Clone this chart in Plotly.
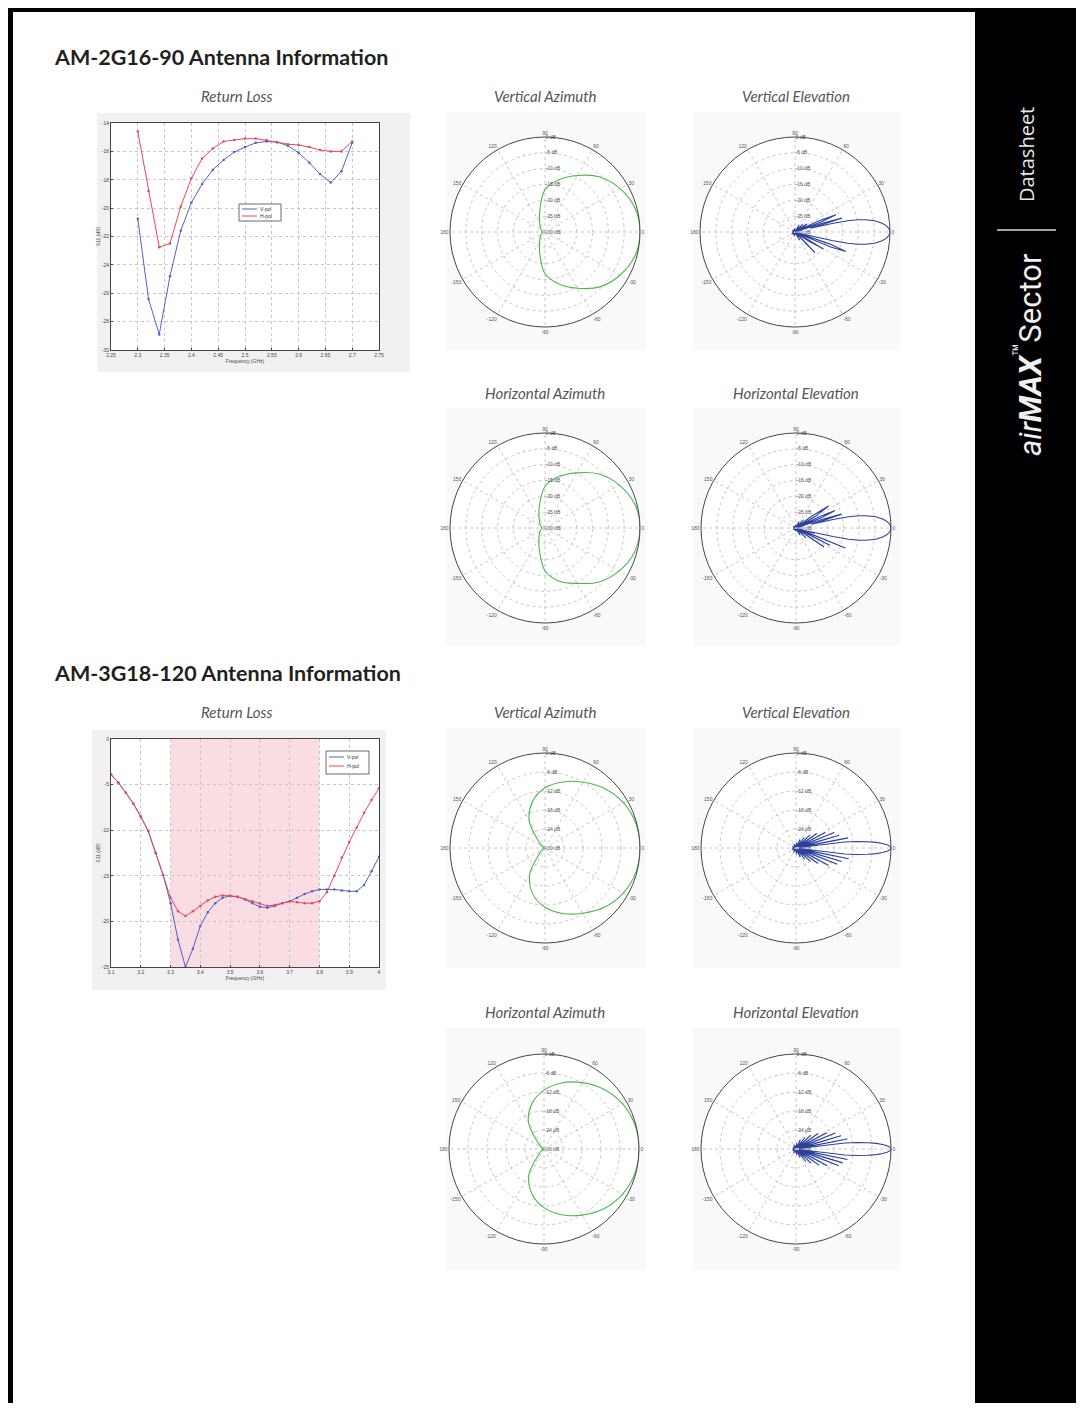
import plotly.graph_objects as go

# page geometry (browser body keeps an 8px margin)
OFF = 8
W, H = 1084 - 2 * OFF, 1411 - 2 * OFF

# ---------------- data ----------------
# AM-2G16-90 return loss
rl2_freq = [2.30, 2.32, 2.34, 2.36, 2.38, 2.40, 2.42, 2.44, 2.46, 2.48, 2.50,
            2.52, 2.54, 2.56, 2.58, 2.60, 2.62, 2.64, 2.66, 2.68, 2.70]
rl2_vpol = [-20.75, -26.4, -28.9, -24.8, -21.6, -19.6, -18.3, -17.3, -16.6, -16.05, -15.7,
            -15.4, -15.3, -15.35, -15.6, -16.1, -16.8, -17.6, -18.2, -17.4, -15.4]
rl2_hpol = [-14.6, -18.8, -22.75, -22.5, -19.9, -17.9, -16.5, -15.8, -15.3, -15.2, -15.1,
            -15.1, -15.2, -15.35, -15.5, -15.55, -15.7, -15.9, -16.0, -16.0, -15.3]
rl2_xticks = [2.25, 2.3, 2.35, 2.4, 2.45, 2.5, 2.55, 2.6, 2.65, 2.7, 2.75]
rl2_xticktext = ["2.25", "2.3", "2.35", "2.4", "2.45", "2.5", "2.55", "2.6", "2.65", "2.7", "2.75"]
rl2_yticks = [-30, -28, -26, -24, -22, -20, -18, -16, -14]

# AM-3G18-120 return loss
rl3_freq = [3.100, 3.125, 3.150, 3.175, 3.200, 3.225, 3.250, 3.275, 3.300, 3.325,
            3.350, 3.375, 3.400, 3.425, 3.450, 3.475, 3.500, 3.525, 3.550, 3.575,
            3.600, 3.625, 3.650, 3.675, 3.700, 3.725, 3.750, 3.775, 3.800, 3.825,
            3.850, 3.875, 3.900, 3.925, 3.950, 3.975, 4.000]
rl3_vpol = [-3.9, -4.8, -5.9, -7.1, -8.5, -10.1, -12.5, -14.9, -18.0, -22.0,
            -25.0, -23.0, -20.5, -19.0, -18.0, -17.4, -17.2, -17.3, -17.6, -18.0,
            -18.4, -18.5, -18.3, -18.0, -17.8, -17.4, -17.0, -16.7, -16.5, -16.5,
            -16.5, -16.6, -16.7, -16.7, -16.0, -14.5, -12.9]
rl3_hpol = [-3.9, -4.8, -5.9, -7.1, -8.5, -10.1, -12.5, -14.9, -17.4, -18.9,
            -19.4, -18.9, -18.3, -17.7, -17.3, -17.15, -17.2, -17.3, -17.55, -17.8,
            -18.05, -18.3, -18.2, -18.0, -17.8, -17.9, -18.0, -18.0, -17.8, -16.8,
            -15.0, -13.0, -11.3, -9.7, -8.1, -6.7, -5.4]
rl3_band = [3.3, 3.8]
rl3_xticks = [3.1, 3.2, 3.3, 3.4, 3.5, 3.6, 3.7, 3.8, 3.9, 4.0]
rl3_xticktext = ["3.1", "3.2", "3.3", "3.4", "3.5", "3.6", "3.7", "3.8", "3.9", "4"]
rl3_yticks = [-25, -20, -15, -10, -5, 0]

legend_names = ["V-pol", "H-pol"]

# polar tick labels
ang_tickvals = [0, 30, 60, 90, 120, 150, 180, 210, 240, 270, 300, 330]
ang_ticktext = ["0", "30", "60", "90", "120", "150", "180", "-150", "-120", "-90", "-60", "-30"]
r2_tickvals = [-30, -25, -20, -15, -10, -5, 0]
r2_ticktext = ["-30 dB", "-25 dB", "-20 dB", "-15 dB", "-10 dB", "-5 dB", "0 dB"]
r3_tickvals = [-30, -24, -18, -12, -6, 0]
r3_ticktext = ["-30 dB", "-24 dB", "-18 dB", "-12 dB", "-6 dB", "0 dB"]

# azimuth patterns (deg, dB)
az_theta = [-180, -165, -150, -135, -120, -105, -90, -75, -60, -45, -30, -15, 0,
            15, 30, 45, 60, 75, 90, 105, 120, 135, 150, 165, 180]
az2_v_db = [-29.2, -29.0, -28.6, -27.9, -26.7, -23.4, -16.8, -13.0, -9.5, -5.5, -2.7, -0.6, 0,
            -0.6, -2.6, -5.4, -9.4, -12.9, -16.6, -23.5, -26.7, -27.9, -28.6, -29.0, -29.2]
az2_h_db = [-29.0, -28.8, -28.3, -27.5, -26.2, -23.0, -16.5, -12.6, -9.8, -5.9, -2.9, -0.7, 0,
            -0.7, -2.9, -5.9, -9.9, -13.2, -16.9, -23.0, -26.3, -27.6, -28.4, -28.8, -29.0]
az3_v_db = [-29.9, -29.7, -29.0, -27.5, -20.3, -15.0, -11.3, -8.6, -6.2, -3.5, -1.5, -0.3, 0,
            -0.3, -1.4, -3.4, -6.0, -8.4, -11.0, -14.8, -20.0, -27.3, -28.9, -29.7, -29.9]
az3_h_db = [-29.9, -29.7, -29.2, -27.8, -20.4, -15.3, -11.5, -8.5, -5.9, -3.3, -1.4, -0.3, 0,
            -0.3, -1.4, -3.3, -5.8, -8.4, -11.4, -15.2, -20.2, -27.6, -29.2, -29.7, -29.9]

# elevation patterns (deg, dB)
el2_v_theta = [-180, -150, -120, -100, -80, -70, -60, -55, -50, -46, -42, -37, -34, -31, -28,
               -25, -23, -21, -19, -17, -14, -13, -12, -11, -10, -8, -6, -4, -2, 0,
               2, 4, 6, 8, 10, 11, 12, 13, 14, 15.5, 16.5, 18, 19, 21, 23, 25, 26.5,
               30, 34, 38, 45, 52, 60, 68, 80, 100, 120, 150, 180]
el2_v_db = [-29.6, -28.8, -29.5, -28.6, -29.7, -29.5, -27.0, -29.6, -29.5, -21.0, -29.3, -29.5, -25.0, -19.5, -28.5,
            -29.5, -18.0, -12.8, -18.5, -29.0, -25.0, -18.0, -13.0, -9.8, -7.6, -4.6, -2.5, -1.1, -0.3, 0,
            -0.3, -1.1, -2.5, -4.6, -7.6, -9.8, -13.0, -18.0, -25.0, -20.0, -14.5, -21.0, -29.5, -21.0, -16.0, -22.0, -29.5,
            -27.0, -25.5, -29.5, -26.5, -29.5, -27.5, -29.8, -29.5, -28.8, -29.6, -29.0, -29.6]
el2_h_theta = [-180, -150, -120, -90, -70, -60, -52, -45, -40, -34, -30, -27, -24.5, -22, -19,
               -16, -14.5, -13, -12, -11, -10, -8, -6, -4, -2, 0,
               2, 4, 6, 8, 10, 11, 12, 13, 14, 15.5, 17, 18.5, 20, 22, 24, 26, 28,
               31, 34, 37, 40, 48, 55, 65, 75, 90, 120, 150, 180]
el2_h_db = [-29.5, -29.0, -29.6, -28.9, -29.6, -27.5, -29.6, -25.5, -29.5, -19.3, -29.3, -18.0, -29.0, -13.2, -29.0,
            -24.0, -26.0, -18.0, -13.0, -9.8, -7.6, -4.6, -2.5, -1.1, -0.3, 0,
            -0.3, -1.1, -2.5, -4.6, -7.6, -9.8, -13.0, -18.0, -25.0, -21.0, -15.0, -22.0, -29.5, -21.0, -16.5, -22.0, -29.5,
            -23.0, -17.6, -24.0, -29.5, -26.5, -29.6, -27.8, -29.7, -28.9, -29.6, -29.0, -29.5]
el3_v_theta = [-180, -160, -140, -120, -100, -85, -75, -65, -58, -52, -47, -43, -39, -35, -31,
               -28, -24, -21.5, -19, -16.5, -13.5, -11.5, -8.5, -7, -6, -5, -4, -3, -2, -1, 0,
               1, 2, 3, 4, 5, 6, 7, 8.5, 11, 13.5, 16.5, 19, 22, 25, 28, 31, 35, 39, 43, 47,
               52, 58, 65, 75, 85, 100, 120, 140, 160, 180]
el3_v_db = [-29.4, -28.6, -29.5, -28.4, -29.6, -28.0, -29.5, -26.8, -29.5, -25.5, -29.4, -23.8, -29.2, -21.5, -29.0,
            -18.4, -29.0, -16.0, -28.7, -15.0, -28.8, -13.0, -29.0, -14.5, -10.5, -7.3, -4.6, -2.6, -1.2, -0.3, 0,
            -0.3, -1.2, -2.6, -4.6, -7.3, -10.5, -14.5, -29.0, -13.2, -28.8, -15.8, -28.8, -17.0, -29.0, -19.5, -29.2, -22.0, -29.3, -24.0, -29.5,
            -25.8, -29.5, -27.0, -29.6, -28.3, -29.6, -28.6, -29.5, -28.8, -29.4]
el3_h_theta = [-180, -160, -140, -120, -100, -85, -75, -65, -58, -52, -47, -43, -39, -35, -31,
               -28, -24, -21.5, -19, -16.5, -13.5, -11.5, -8.5, -7, -6, -5, -4, -3, -2, -1, 0,
               1, 2, 3, 4, 5, 6, 7, 8.5, 11, 13.5, 16.5, 19, 22, 25, 28, 31, 35, 39, 43, 47,
               52, 58, 65, 75, 85, 100, 120, 140, 160, 180]
el3_h_db = [-29.5, -28.8, -29.4, -28.5, -29.6, -28.2, -29.5, -27.0, -29.5, -25.0, -29.4, -23.5, -29.2, -21.0, -29.0,
            -18.8, -29.0, -15.5, -28.7, -14.6, -28.8, -13.4, -29.0, -14.5, -10.5, -7.3, -4.6, -2.6, -1.2, -0.3, 0,
            -0.3, -1.2, -2.6, -4.6, -7.3, -10.5, -14.5, -29.0, -13.5, -28.8, -15.2, -28.8, -16.6, -29.0, -19.0, -29.2, -21.5, -29.3, -23.6, -29.5,
            -25.5, -29.5, -26.8, -29.6, -28.2, -29.6, -28.5, -29.5, -28.9, -29.5]

# ---------------- style ----------------
BLUE_RL = "#4f63c9"
RED_RL = "#e5485d"
GREEN = "#4cb84c"
NAVY = "#2b3f9e"
GRID = "#c6c6c6"
TXT = "#555555"
TICKFONT = dict(size=5, color=TXT, family="Liberation Sans")


def px(x):
    return (x - OFF) / W


def py(y):
    return 1 - (y - OFF) / H


fig = go.Figure()

# return loss traces
for xs, ys, col, xa, ya in [(rl2_freq, rl2_vpol, BLUE_RL, "x", "y"),
                            (rl2_freq, rl2_hpol, RED_RL, "x", "y"),
                            (rl3_freq, rl3_vpol, BLUE_RL, "x2", "y2"),
                            (rl3_freq, rl3_hpol, RED_RL, "x2", "y2")]:
    fig.add_trace(go.Scatter(x=xs, y=ys, mode="lines+markers", showlegend=False,
                             line=dict(color=col, width=1), marker=dict(size=2.5, color=col),
                             xaxis=xa, yaxis=ya))

# polar traces
polar_specs = [
    ("polar", az_theta, az2_v_db, GREEN, "spline"),
    ("polar2", el2_v_theta, el2_v_db, NAVY, "linear"),
    ("polar3", az_theta, az2_h_db, GREEN, "spline"),
    ("polar4", el2_h_theta, el2_h_db, NAVY, "linear"),
    ("polar5", az_theta, az3_v_db, GREEN, "spline"),
    ("polar6", el3_v_theta, el3_v_db, NAVY, "linear"),
    ("polar7", az_theta, az3_h_db, GREEN, "spline"),
    ("polar8", el3_h_theta, el3_h_db, NAVY, "linear"),
]
for sp, th, r, col, shp in polar_specs:
    fig.add_trace(go.Scatterpolar(r=r, theta=th, subplot=sp, mode="lines", showlegend=False,
                                  line=dict(color=col, width=1.1, shape=shp)))

# polar layouts
centers = {
    "polar": (545, 232), "polar2": (795, 232),
    "polar3": (545, 528), "polar4": (796, 528),
    "polar5": (545, 848), "polar6": (796, 848),
    "polar7": (544, 1149), "polar8": (796, 1149),
}
RAD = 95
polar_layouts = {}
for name, (cx, cy) in centers.items():
    top = name in ("polar", "polar2", "polar3", "polar4")
    polar_layouts[name] = dict(
        domain=dict(x=[px(cx - RAD), px(cx + RAD)], y=[py(cy + RAD), py(cy - RAD)]),
        bgcolor="white",
        radialaxis=dict(range=[-30, 0], tickvals=r2_tickvals if top else r3_tickvals,
                        ticktext=r2_ticktext if top else r3_ticktext,
                        angle=90, tickangle=90, side="clockwise", showline=False, ticks="",
                        gridcolor=GRID, griddash="dot", gridwidth=0.8, tickfont=TICKFONT),
        angularaxis=dict(rotation=0, direction="counterclockwise", tickvals=ang_tickvals,
                         ticktext=ang_ticktext, showline=True, linecolor="#444444", linewidth=1,
                         gridcolor=GRID, griddash="dot", gridwidth=0.8, ticks="", tickfont=TICKFONT),
    )


def rl_axis(domain, rng, tickvals, ticktext, title):
    return dict(domain=domain, range=rng, tickvals=tickvals, ticktext=ticktext,
                showgrid=True, gridcolor=GRID, griddash="dot", gridwidth=0.8,
                showline=True, mirror=True, linecolor="#444444", linewidth=1,
                zeroline=False, ticks="inside", ticklen=2, tickcolor="#444444",
                tickfont=dict(size=5, color="#444444", family="Liberation Sans"),
                title=dict(text=title, font=dict(size=5, color="#444444", family="Liberation Sans"),
                           standoff=1))


RL_X = [111, 379]
RL2_Y = [123, 350]
RL3_Y = [739, 967]

layout = dict(
    width=W, height=H, template="none",
    margin=dict(l=0, r=0, t=0, b=0),
    paper_bgcolor="black", plot_bgcolor="white", showlegend=False,
    xaxis=rl_axis([px(RL_X[0]), px(RL_X[1])], [2.25, 2.75], rl2_xticks, rl2_xticktext, "Frequency (GHz)"),
    yaxis=rl_axis([py(RL2_Y[1]), py(RL2_Y[0])], [-30, -14], rl2_yticks, [str(v) for v in rl2_yticks], "S11 (dB)"),
    xaxis2=rl_axis([px(RL_X[0]), px(RL_X[1])], [3.1, 4.0], rl3_xticks, rl3_xticktext, "Frequency (GHz)"),
    yaxis2=rl_axis([py(RL3_Y[1]), py(RL3_Y[0])], [-25, 0], rl3_yticks, [str(v) for v in rl3_yticks], "S11 (dB)"),
)
layout.update(polar_layouts)
fig.update_layout(**layout)
fig.update_layout(xaxis2=dict(anchor="y2"), yaxis2=dict(anchor="x2"))

# ---------------- shapes ----------------
shapes = []
# page
shapes.append(dict(type="rect", xref="paper", yref="paper", x0=px(13), x1=px(975), y0=0, y1=py(12),
                   fillcolor="white", line=dict(width=0), layer="below"))
# chart backgrounds
for (x0, y0, x1, y1, c) in [(97, 113, 410, 372, "#f1f1f1"), (92, 730, 386, 990, "#f1f1f1"),
                            (446, 112, 646, 350, "#f9f9f9"), (693, 112, 900, 350, "#f9f9f9"),
                            (446, 408, 646, 645, "#f9f9f9"), (693, 408, 900, 645, "#f9f9f9"),
                            (446, 728, 646, 968, "#f9f9f9"), (693, 728, 900, 968, "#f9f9f9"),
                            (446, 1028, 646, 1270, "#f9f9f9"), (693, 1028, 900, 1270, "#f9f9f9")]:
    shapes.append(dict(type="rect", xref="paper", yref="paper", x0=px(x0), x1=px(x1),
                       y0=py(y1), y1=py(y0), fillcolor=c, line=dict(width=0), layer="below"))
# white plot areas
for (yy0, yy1) in [RL2_Y, RL3_Y]:
    shapes.append(dict(type="rect", xref="paper", yref="paper", x0=px(RL_X[0]), x1=px(RL_X[1]),
                       y0=py(yy1), y1=py(yy0), fillcolor="white", line=dict(width=0), layer="below"))
# pink band
shapes.append(dict(type="rect", xref="x2", yref="y2 domain", x0=rl3_band[0], x1=rl3_band[1], y0=0, y1=1,
                   fillcolor="#f9dde2", line=dict(width=0), layer="below"))
# sidebar separator
shapes.append(dict(type="line", xref="paper", yref="paper", x0=px(997), x1=px(1056), y0=py(230), y1=py(230),
                   line=dict(color="#dddddd", width=1.5)))

ann = []
# hand-drawn legends (compact, like the MATLAB ones)
for (lx0, ly0, lx1, ly1, rows) in [(239, 204, 281, 221, (209, 216)), (326, 751, 369, 774, (757, 766))]:
    shapes.append(dict(type="rect", xref="paper", yref="paper", x0=px(lx0), x1=px(lx1),
                       y0=py(ly1), y1=py(ly0), fillcolor="white", line=dict(color="#444444", width=0.8)))
    for name, col, ry in zip(legend_names, [BLUE_RL, RED_RL], rows):
        shapes.append(dict(type="line", xref="paper", yref="paper", x0=px(lx0 + 3), x1=px(lx0 + 18),
                           y0=py(ry), y1=py(ry), line=dict(color=col, width=1)))
        ann.append(dict(x=px(lx0 + 20), y=py(ry), xref="paper", yref="paper", xanchor="left",
                        yanchor="middle", text=name, showarrow=False, borderpad=0,
                        font=dict(size=5, color="#333333", family="Liberation Sans")))
fig.update_layout(shapes=shapes)

# ---------------- text ----------------
HEAD_FONT = dict(family="Lato", size=21.5, color="#231f20")
ann.append(dict(x=px(52), y=py(57), xref="paper", yref="paper", xanchor="left", yanchor="middle",
                text="<b>AM-2G16-90 Antenna Information</b>", showarrow=False, font=HEAD_FONT))
ann.append(dict(x=px(52), y=py(673), xref="paper", yref="paper", xanchor="left", yanchor="middle",
                text="<b>AM-3G18-120 Antenna Information</b>", showarrow=False, font=HEAD_FONT))
SUB_FONT = dict(family="Lato", size=15, color="#555555")
for (x, y, t) in [(237, 96, "Return Loss"), (545, 96, "Vertical Azimuth"), (796, 96, "Vertical Elevation"),
                  (545, 393, "Horizontal Azimuth"), (796, 393, "Horizontal Elevation"),
                  (237, 712, "Return Loss"), (545, 712, "Vertical Azimuth"), (796, 712, "Vertical Elevation"),
                  (545, 1012, "Horizontal Azimuth"), (796, 1012, "Horizontal Elevation")]:
    ann.append(dict(x=px(x), y=py(y), xref="paper", yref="paper", xanchor="center", yanchor="middle",
                    text="<i>" + t + "</i>", showarrow=False, font=SUB_FONT))
ann.append(dict(x=px(1027), y=py(155), xref="paper", yref="paper", xanchor="center", yanchor="middle",
                text="Datasheet", textangle=-90, showarrow=False,
                font=dict(family="Open Sans", size=20, color="#e6e6e6")))
ann.append(dict(x=px(1028), y=py(355), xref="paper", yref="paper", xanchor="center", yanchor="middle",
                text="<i>air</i><b><i>MAX</i></b><sup>™</sup>Sector", textangle=-90, showarrow=False,
                font=dict(family="Roboto", size=31, color="#f0f0f0")))
fig.update_layout(annotations=ann)

fig.write_html("out.html")
